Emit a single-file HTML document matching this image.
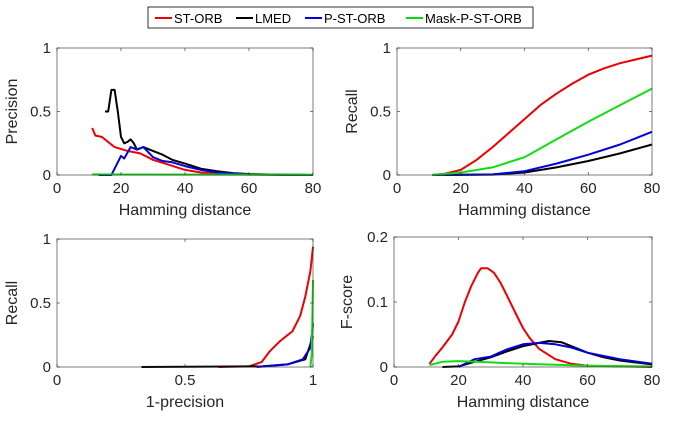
<!DOCTYPE html>
<html><head><meta charset="utf-8"><style>
body{margin:0;background:#fff;width:677px;height:420px;overflow:hidden}
svg{font-family:"Liberation Sans",sans-serif}
</style></head><body>
<svg id="fig" width="677" height="420" xmlns="http://www.w3.org/2000/svg">
<g>
<rect x="148" y="7" width="385" height="21" fill="#fff" stroke="#000" stroke-width="0.8"/>
<line x1="155" y1="18" x2="172" y2="18" stroke="#e00" stroke-width="2"/><text x="174" y="23" font-size="13">ST-ORB</text>
<line x1="236" y1="18" x2="253" y2="18" stroke="#000" stroke-width="2"/><text x="255" y="23" font-size="13">LMED</text>
<line x1="305" y1="18" x2="322" y2="18" stroke="#00d" stroke-width="2"/><text x="324" y="23" font-size="13">P-ST-ORB</text>
<line x1="406" y1="18" x2="423" y2="18" stroke="#0d0" stroke-width="2"/><text x="425" y="23" font-size="13">Mask-P-ST-ORB</text>
</g>
</svg>
<script>
const colors=["#e00","#000","#00d","#1d1"];
const seriesNames=["st-orb","lmed","p-st-orb","mask-p-st-orb"];
// Precision vs Hamming distance
const precRed=[[11,0.37],[12,0.31],[14,0.3],[16,0.26],[18,0.22],[22,0.19],[26,0.17],[30,0.12],[35,0.08],[40,0.04],[45,0.02],[50,0.01],[60,0.003],[80,0]];
const precBlack=[[15,0.5],[16,0.5],[17,0.67],[18,0.67],[19,0.5],[20,0.3],[21,0.25],[22,0.26],[23,0.28],[24,0.25],[25,0.2],[26,0.21],[27,0.22],[30,0.19],[33,0.16],[36,0.12],[40,0.09],[45,0.05],[50,0.03],[55,0.015],[60,0.008],[70,0.002],[80,0]];
const precBlue=[[13,0],[17,0],[18,0.05],[20,0.15],[21,0.13],[23,0.22],[25,0.2],[27,0.22],[30,0.14],[33,0.11],[36,0.1],[40,0.07],[45,0.04],[50,0.02],[60,0.005],[80,0]];
const precGreen=[[11,0.005],[80,0.002]];
// Recall vs Hamming distance
const recRed=[[11,0],[15,0.01],[20,0.04],[25,0.12],[30,0.22],[35,0.33],[40,0.44],[45,0.55],[50,0.64],[55,0.72],[60,0.79],[65,0.84],[70,0.88],[75,0.91],[80,0.94]];
const recBlack=[[15,0],[30,0.003],[40,0.02],[50,0.06],[60,0.11],[70,0.17],[80,0.24]];
const recBlue=[[11,0],[30,0.005],[40,0.03],[50,0.09],[60,0.16],[70,0.24],[80,0.34]];
const recGreen=[[11,0],[20,0.02],[30,0.06],[40,0.14],[50,0.28],[60,0.42],[70,0.55],[80,0.68]];
// Recall vs 1-precision
const prRed=[[0.63,0],[0.75,0.005],[0.8,0.04],[0.83,0.12],[0.87,0.2],[0.92,0.28],[0.95,0.4],[0.97,0.55],[0.99,0.75],[1,0.94]];
const prBlack=[[0.33,0],[0.8,0.005],[0.9,0.02],[0.97,0.06],[1,0.24]];
const prBlue=[[0.78,0],[0.9,0.02],[0.96,0.06],[0.99,0.15],[1,0.34]];
const prGreen=[[0.99,0],[0.995,0.1],[1,0.68]];
// F-score vs Hamming distance
const fRed=[[11,0.005],[13,0.018],[15,0.03],[18,0.05],[20,0.07],[22,0.1],[24,0.125],[26,0.145],[27,0.152],[29,0.152],[31,0.145],[33,0.13],[35,0.11],[38,0.08],[40,0.06],[42,0.045],[45,0.028],[50,0.012],[55,0.005],[60,0.002],[80,0]];
const fBlack=[[15,0],[20,0.001],[25,0.008],[30,0.015],[35,0.024],[40,0.032],[45,0.037],[48,0.04],[52,0.038],[55,0.032],[60,0.022],[65,0.015],[70,0.01],[80,0.004]];
const fBlue=[[20,0],[25,0.012],[30,0.016],[35,0.027],[40,0.035],[45,0.037],[50,0.035],[55,0.03],[60,0.022],[70,0.012],[80,0.005]];
const fGreen=[[11,0.003],[15,0.008],[20,0.009],[30,0.007],[40,0.005],[60,0.002],[80,0.001]];
const hamTicks=[0,20,40,60,80];
const unitTicks=[0,0.5,1];
const fTicks=[0,0.1,0.2];
const prTicks=[0,0.5,1];

const NS="http://www.w3.org/2000/svg";
const svg=document.getElementById('fig');
function mk(t,a,p){const e=document.createElementNS(NS,t);for(const k in a)e.setAttribute(k,a[k]);(p||svg).appendChild(e);return e;}
function panel(name,box,xd,yd,xt,yt,xl,yl,series){
  const g=mk('g',{});
  
  
  const sx=v=>box.x0+(v-xd[0])/(xd[1]-xd[0])*(box.x1-box.x0);
  const sy=v=>box.y1-(v-yd[0])/(yd[1]-yd[0])*(box.y1-box.y0);
  series.forEach((s,i)=>{
    const p=mk('polyline',{points:s.map(d=>sx(d[0]).toFixed(1)+','+sy(d[1]).toFixed(1)).join(' '),fill:'none',stroke:colors[i],'stroke-width':2,'stroke-linejoin':'round'},g);
    
    
  });
  mk('rect',{x:box.x0,y:box.y0,width:box.x1-box.x0,height:box.y1-box.y0,fill:'none',stroke:'#262626','stroke-width':0.6},g);
  xt.forEach(v=>{const x=sx(v);
    mk('line',{x1:x,y1:box.y1,x2:x,y2:box.y1-3,stroke:'#262626','stroke-width':0.6},g);
    mk('line',{x1:x,y1:box.y0,x2:x,y2:box.y0+3,stroke:'#262626','stroke-width':0.6},g);
    const t=mk('text',{x:x,y:box.y1+18,'font-size':15,'text-anchor':'middle',fill:'#262626'},g);t.textContent=v;
    
    });
  yt.forEach(v=>{const y=sy(v);
    mk('line',{x1:box.x0,y1:y,x2:box.x0+3,y2:y,stroke:'#262626','stroke-width':0.6},g);
    mk('line',{x1:box.x1,y1:y,x2:box.x1-3,y2:y,stroke:'#262626','stroke-width':0.6},g);
    const t=mk('text',{x:box.x0-6,y:y+5,'font-size':15,'text-anchor':'end',fill:'#262626'},g);t.textContent=v;
    
    });
  const xa=mk('text',{x:(box.x0+box.x1)/2,y:box.y1+40,'font-size':16,'text-anchor':'middle',fill:'#262626'},g);xa.textContent=xl;
  
  
  const cy=(box.y0+box.y1)/2, cx=box.x0-(yl==='F-score'?42:40);
  const ya=mk('text',{x:cx,y:cy,'font-size':16,'text-anchor':'middle',fill:'#262626',transform:`rotate(-90 ${cx} ${cy})`},g);ya.textContent=yl;
  
  
}
panel('precision-panel',{x0:57,x1:313,y0:48,y1:175},[0,80],[0,1],hamTicks,unitTicks,'Hamming distance','Precision',[precRed,precBlack,precBlue,precGreen]);
panel('recall-panel',{x0:397,x1:652,y0:48,y1:175},[0,80],[0,1],hamTicks,unitTicks,'Hamming distance','Recall',[recRed,recBlack,recBlue,recGreen]);
panel('pr-curve-panel',{x0:57,x1:313,y0:239,y1:367},[0,1],[0,1],prTicks,unitTicks,'1-precision','Recall',[prRed,prBlack,prBlue,prGreen]);
panel('fscore-panel',{x0:394,x1:652,y0:237,y1:367},[0,80],[0,0.2],hamTicks,fTicks,'Hamming distance','F-score',[fRed,fBlack,fBlue,fGreen]);
</script>
</body></html>
